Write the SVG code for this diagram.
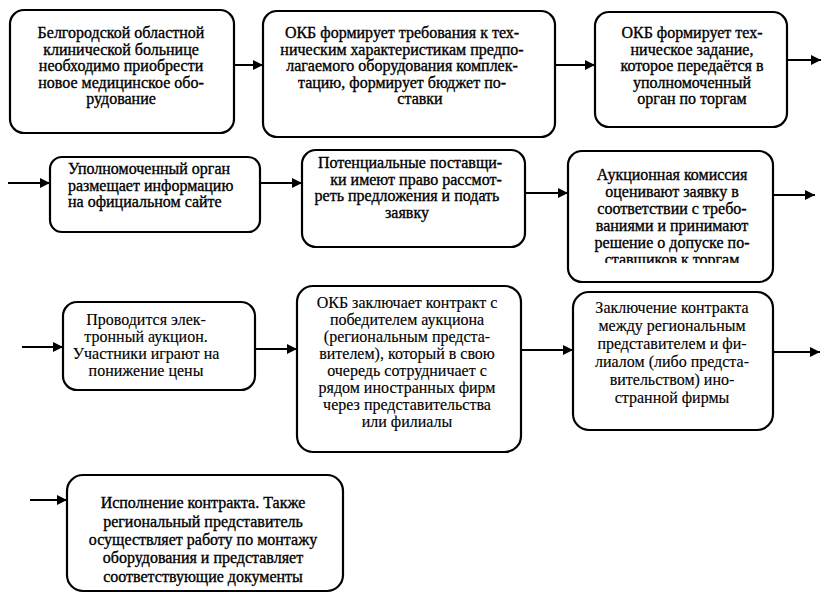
<svg xmlns="http://www.w3.org/2000/svg" width="822" height="593" viewBox="0 0 822 593">
<style>
.box{fill:#fff;stroke:#000;stroke-width:2.2}
.t{font-family:'Liberation Serif','Times New Roman',serif;font-size:16px;fill:#000;stroke:#000;stroke-width:0.35;text-anchor:middle}
.lt{stroke-width:0.15}
.l{text-anchor:start}
.c{stroke:#000;stroke-width:2;fill:none}
</style>
<defs>
<marker id="ah" viewBox="0 0 10 10" refX="10" refY="5" markerWidth="6" markerHeight="5" markerUnits="strokeWidth" orient="auto">
<path d="M0,0 L10,5 L0,10 z" fill="#000"/>
</marker>
<clipPath id="clip6"><rect x="560" y="140" width="230" height="123"/></clipPath>
</defs>
<rect width="822" height="593" fill="#fff"/>
<g id="connectors">
<line class="c" x1="234" y1="65" x2="263" y2="65" marker-end="url(#ah)"/>
<line class="c" x1="555" y1="65" x2="595" y2="65" marker-end="url(#ah)"/>
<line class="c" x1="787" y1="60" x2="821" y2="60" marker-end="url(#ah)"/>
<line class="c" x1="8" y1="183" x2="50" y2="183" marker-end="url(#ah)"/>
<line class="c" x1="260" y1="183" x2="302" y2="183" marker-end="url(#ah)"/>
<line class="c" x1="525" y1="193" x2="568" y2="193" marker-end="url(#ah)"/>
<line class="c" x1="773" y1="195" x2="815" y2="195" marker-end="url(#ah)"/>
<line class="c" x1="22" y1="347" x2="63" y2="347" marker-end="url(#ah)"/>
<line class="c" x1="255" y1="349" x2="297" y2="349" marker-end="url(#ah)"/>
<line class="c" x1="521" y1="350" x2="573" y2="350" marker-end="url(#ah)"/>
<line class="c" x1="773" y1="352" x2="820" y2="352" marker-end="url(#ah)"/>
<line class="c" x1="30" y1="500" x2="67" y2="500" marker-end="url(#ah)"/>
</g>
<g id="n1">
<rect class="box" x="10" y="10" width="224" height="123" rx="14"/>
<text class="t"><tspan x="121" y="38">Белгородской областной</tspan><tspan x="121" y="54.5">клинической больнице</tspan><tspan x="121" y="71">необходимо приобрести</tspan><tspan x="121" y="87.5">новое  медицинское обо-</tspan><tspan x="121" y="104">рудование</tspan></text>
</g>
<g id="n2">
<rect class="box" x="263" y="11" width="292" height="126" rx="14"/>
<text class="t"><tspan x="402" y="38">ОКБ формирует требования к тех-</tspan><tspan x="402" y="54.5">ническим характеристикам предпо-</tspan><tspan x="402" y="71">лагаемого оборудования комплек-</tspan><tspan x="402" y="87.5">тацию, формирует бюджет по-</tspan><tspan x="420" y="104">ставки</tspan></text>
</g>
<g id="n3">
<rect class="box" x="595" y="12" width="192" height="115" rx="14"/>
<text class="t"><tspan x="692" y="38">ОКБ формирует тех-</tspan><tspan x="692" y="54.5">ническое задание,</tspan><tspan x="692" y="71">которое передаётся в</tspan><tspan x="692" y="87.5">уполномоченный</tspan><tspan x="692" y="104">орган по торгам</tspan></text>
</g>
<g id="n4">
<rect class="box" x="50" y="157" width="210" height="75" rx="12"/>
<text class="t l"><tspan x="68" y="174">Уполномоченный орган</tspan><tspan x="68" y="190.5">размещает информацию</tspan><tspan x="68" y="207">на официальном сайте</tspan></text>
</g>
<g id="n5">
<rect class="box" x="302" y="150" width="223" height="97" rx="14"/>
<text class="t"><tspan x="410" y="168">Потенциальные поставщи-</tspan><tspan x="416" y="184.5">ки имеют право рассмот-</tspan><tspan x="407" y="201">реть предложения и подать</tspan><tspan x="407" y="217.5">заявку</tspan></text>
</g>
<g id="n6">
<rect class="box" x="568" y="151" width="205" height="131" rx="14"/>
<text class="t" clip-path="url(#clip6)"><tspan x="672" y="180">Аукционная комиссия</tspan><tspan x="672" y="197">оценивают заявку в</tspan><tspan x="672" y="214">соответствии с требо-</tspan><tspan x="672" y="231">ваниями и принимают</tspan><tspan x="672" y="248">решение о допуске по-</tspan><tspan x="672" y="265">ставщиков к торгам</tspan></text>
</g>
<g id="n7">
<rect class="box" x="63" y="302" width="192" height="88" rx="14"/>
<text class="t lt"><tspan x="146" y="325">Проводится элек-</tspan><tspan x="146" y="342">тронный аукцион.</tspan><tspan x="146" y="359">Участники играют на</tspan><tspan x="146" y="376">понижение цены</tspan></text>
</g>
<g id="n8">
<rect class="box" x="297" y="286" width="224" height="166" rx="16"/>
<text class="t lt"><tspan x="407" y="308">ОКБ заключает контракт с</tspan><tspan x="407" y="325">победителем аукциона</tspan><tspan x="407" y="342">(региональным предста-</tspan><tspan x="407" y="359">вителем), который в свою</tspan><tspan x="407" y="376">очередь сотрудничает с</tspan><tspan x="407" y="393">рядом иностранных фирм</tspan><tspan x="407" y="410">через представительства</tspan><tspan x="407" y="427">или филиалы</tspan></text>
</g>
<g id="n9">
<rect class="box" x="573" y="292" width="200" height="138" rx="16"/>
<text class="t lt"><tspan x="672" y="313">Заключение контракта</tspan><tspan x="672" y="331">между региональным</tspan><tspan x="672" y="349">представителем и фи-</tspan><tspan x="672" y="367">лиалом (либо предста-</tspan><tspan x="672" y="385">вительством) ино-</tspan><tspan x="672" y="403">странной фирмы</tspan></text>
</g>
<g id="n10">
<rect class="box" x="67" y="475" width="276" height="116" rx="16"/>
<text class="t"><tspan x="203" y="508">Исполнение контракта. Также</tspan><tspan x="203" y="527">региональный представитель</tspan><tspan x="203" y="545">осуществляет работу по монтажу</tspan><tspan x="203" y="563">оборудования и представляет</tspan><tspan x="203" y="582">соответствующие документы</tspan></text>
</g>
</svg>
